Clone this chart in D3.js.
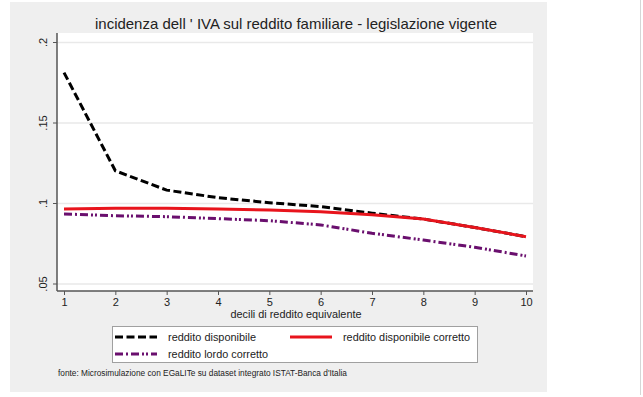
<!DOCTYPE html>
<html>
<head>
<meta charset="utf-8">
<title>incidenza IVA</title>
<script src="https://d3js.org/d3.v7.min.js"></script>
<style>
  body { margin: 0; background: #fff; }
  svg { display: block; font-family: "Liberation Sans", Arial, sans-serif; }
</style>
</head>
<body>
<div id="chart"></div>
<script>

// data
var decili = [1, 2, 3, 4, 5, 6, 7, 8, 9, 10];
var redditoDisponibile = [0.181, 0.120, 0.108, 0.1033, 0.1002, 0.0978, 0.0937, 0.0900, 0.0848, 0.0791];
var redditoDispCorretto = [0.0963, 0.0967, 0.0967, 0.0963, 0.0957, 0.0946, 0.0927, 0.0900, 0.0848, 0.0791];
var redditoLordoCorretto = [0.0932, 0.0921, 0.0915, 0.0903, 0.0890, 0.0864, 0.0812, 0.0770, 0.0725, 0.0671];
var yTicks = [0.05, 0.1, 0.15, 0.2];
var xTicks = [1, 2, 3, 4, 5, 6, 7, 8, 9, 10];

var titolo = "incidenza dell ' IVA sul reddito familiare - legislazione vigente";
var titoloX = "decili di reddito equivalente";
var fonte = "fonte: Microsimulazione con EGaLITe su dataset integrato ISTAT-Banca d'Italia";

var W = 643, H = 397;

var svg = d3.select("#chart").append("svg")
  .attr("width", W).attr("height", H);

// gray stata-like background
svg.append("rect").attr("x", 10).attr("y", 2).attr("width", 537).attr("height", 390)
  .attr("fill", "#efefef");
// thin separator on the right
svg.append("line").attr("x1", 640.5).attr("x2", 640.5).attr("y1", 0).attr("y2", 395)
  .attr("stroke", "#d6d6d6");

// plot region
var pl = 57, pr = 533, pt = 33, pb = 291;
svg.append("rect").attr("x", pl).attr("y", pt).attr("width", pr - pl).attr("height", pb - pt)
  .attr("fill", "#fff");

var x = d3.scaleLinear().domain([1, 10]).range([64, 526]);
var y = d3.scaleLinear().domain([0.05, 0.2]).range([283.5, 42]);

// grid
svg.append("g")
  .attr("transform", "translate(" + pl + ",0)")
  .call(d3.axisLeft(y).tickValues(yTicks).tickSize(-(pr - pl)).tickFormat(""))
  .call(function(g) {
    g.select(".domain").remove();
    g.selectAll("line").attr("stroke", "#e9e9e9").attr("stroke-width", 1.5);
  });

function fmt(d) { return String(d).replace(/^0/, ""); }

// y axis
var ya = svg.append("g")
  .attr("transform", "translate(" + pl + ",0)")
  .call(d3.axisLeft(y).tickValues(yTicks).tickSize(4).tickSizeOuter(0).tickFormat(fmt));
ya.select(".domain").attr("d", "M0," + pt + "V" + pb).attr("stroke", "#555").attr("stroke-width", 1.5);
ya.selectAll(".tick line").attr("stroke", "#555");
ya.selectAll(".tick text")
  .attr("font-size", 11).attr("fill", "#222")
  .attr("x", 0).attr("y", 0).attr("dy", 0)
  .attr("text-anchor", "middle")
  .attr("transform", "translate(-10,0) rotate(-90)");

// x axis
var xa = svg.append("g")
  .attr("transform", "translate(0," + pb + ")")
  .call(d3.axisBottom(x).tickValues(xTicks).tickSize(4).tickSizeOuter(0).tickFormat(d3.format("d")));
xa.select(".domain").attr("d", "M" + pl + ",0H" + pr).attr("stroke", "#555").attr("stroke-width", 1.5);
xa.selectAll(".tick line").attr("stroke", "#555");
xa.selectAll(".tick text").attr("font-size", 11).attr("fill", "#222").attr("y", 7).attr("dy", "0.71em");

// series
var line = d3.line().x(function(d, i) { return x(decili[i]); }).y(function(d) { return y(d); });

var serie = [
  { nome: "reddito disponibile", dati: redditoDisponibile, col: "#000", dash: "8,3.5" },
  { nome: "reddito disponibile corretto", dati: redditoDispCorretto, col: "#e8141c", dash: null },
  { nome: "reddito lordo corretto", dati: redditoLordoCorretto, col: "#6a0f6e", dash: "8,3,2,3,8,3,2,2,2,3" }
];

// purple first, then black, red on top
[serie[2], serie[0], serie[1]].forEach(function(s) {
  svg.append("path").datum(s.dati)
    .attr("d", line)
    .attr("fill", "none")
    .attr("stroke", s.col)
    .attr("stroke-width", 3)
    .attr("stroke-dasharray", s.dash);
});

// title
svg.append("text").attr("x", 296).attr("y", 29)
  .attr("text-anchor", "middle").attr("font-size", 15).attr("fill", "#222")
  .attr("font-family", "'Liberation Sans Narrow', 'Liberation Sans', Arial, sans-serif")
  .attr("textLength", 402).attr("lengthAdjust", "spacingAndGlyphs")
  .text(titolo);

// x axis title
svg.append("text").attr("x", 296).attr("y", 318)
  .attr("text-anchor", "middle").attr("font-size", 11.5).attr("fill", "#222")
  .attr("textLength", 131).attr("lengthAdjust", "spacingAndGlyphs")
  .text(titoloX);

// legend
svg.append("rect").attr("x", 112.5).attr("y", 326.5).attr("width", 365).attr("height", 36)
  .attr("fill", "#fff").attr("stroke", "#a0a0a0");

var leg = [
  { s: serie[0], x: 115, y: 337, tl: 88 },
  { s: serie[1], x: 290, y: 337, tl: 127 },
  { s: serie[2], x: 115, y: 354, tl: 100 }
];
leg.forEach(function(l) {
  svg.append("line").attr("x1", l.x).attr("x2", l.x + 42).attr("y1", l.y).attr("y2", l.y)
    .attr("stroke", l.s.col).attr("stroke-width", 3).attr("stroke-dasharray", l.s.dash);
  svg.append("text").attr("x", l.x + 53).attr("y", l.y + 4)
    .attr("font-size", 11.5).attr("fill", "#222")
    .attr("textLength", l.tl).attr("lengthAdjust", "spacingAndGlyphs")
    .text(l.s.nome);
});

// source note
svg.append("text").attr("x", 58).attr("y", 376)
  .attr("font-size", 8.5).attr("fill", "#222")
  .attr("textLength", 289).attr("lengthAdjust", "spacingAndGlyphs")
  .text(fonte);

</script>
</body>
</html>
